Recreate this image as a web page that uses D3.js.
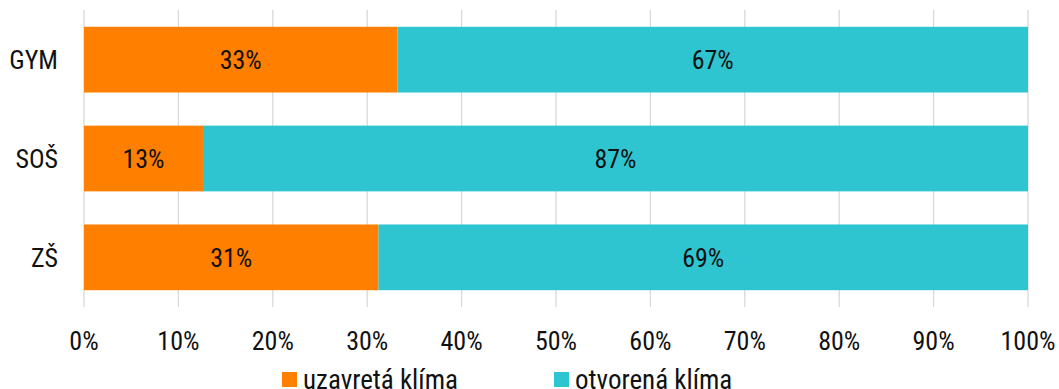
<!DOCTYPE html>
<html>
<head>
<meta charset="utf-8">
<script src="https://cdn.jsdelivr.net/npm/d3@7"></script>
<style>
  body { margin: 0; background: #fff; }
  text { font-family: "Roboto Condensed", "Liberation Sans Narrow", "Roboto", sans-serif; fill: #111; }
</style>
</head>
<body>
<script>
const categories = ["GYM", "SOŠ", "ZŠ"];
const seriesNames = ["uzavretá klíma", "otvorená klíma"];
const closedVals = [33.2, 12.6, 31.2];
const openVals = [66.8, 87.4, 68.8];
const xTicks = [0, 10, 20, 30, 40, 50, 60, 70, 80, 90, 100];
const colors = ["#ff7f00", "#2ec5d1"];

const W = 1059, H = 389;
const margin = { top: 10, right: 31, bottom: 82, left: 84 };
const w = W - margin.left - margin.right,
    h = H - margin.top - margin.bottom;

const svg = d3.select("body").append("svg")
    .attr("width", W)
    .attr("height", H);

const g = svg.append("g")
    .attr("transform", "translate(" + margin.left + "," + margin.top + ")");

const x = d3.scaleLinear().domain([0, 100]).range([0, w]);
const y = d3.scaleBand().domain(categories).range([0, h]).paddingInner(0.335).paddingOuter(0.17);

// gridlines
g.selectAll(".grid")
    .data(xTicks)
    .enter().append("line")
    .attr("x1", d => x(d)).attr("x2", d => x(d))
    .attr("y1", 0).attr("y2", h)
    .attr("stroke", "#d9d9d9")
    .attr("stroke-width", 1.3);

const rows = categories.map((c, i) => ({ cat: c, vals: [closedVals[i], openVals[i]] }));

rows.forEach(r => {
    let acc = 0;
    r.vals.forEach((v, j) => {
        g.append("rect")
            .attr("x", x(acc))
            .attr("y", y(r.cat))
            .attr("width", x(acc + v) - x(acc))
            .attr("height", y.bandwidth())
            .attr("fill", colors[j]);
        g.append("text")
            .attr("x", x(acc + v / 2))
            .attr("y", y(r.cat) + y.bandwidth() / 2)
            .attr("dy", "0.36em")
            .attr("text-anchor", "middle")
            .attr("font-size", 26)
            .text(Math.round(v) + "%");
        acc += v;
    });
});

// category labels
g.selectAll(".cat")
    .data(categories)
    .enter().append("text")
    .attr("x", -26)
    .attr("y", d => y(d) + y.bandwidth() / 2)
    .attr("dy", "0.36em")
    .attr("text-anchor", "end")
    .attr("font-size", 26)
    .text(d => d);

// x tick labels
g.selectAll(".xt")
    .data(xTicks)
    .enter().append("text")
    .attr("x", d => x(d))
    .attr("y", h + 43)
    .attr("text-anchor", "middle")
    .attr("font-size", 26)
    .text(d => d + "%");

// legend
const legX = [282, 554];
seriesNames.forEach((s, i) => {
    svg.append("rect")
        .attr("x", legX[i]).attr("y", 372)
        .attr("width", 15).attr("height", 15)
        .attr("fill", colors[i]);
    svg.append("text")
        .attr("x", legX[i] + 21)
        .attr("y", 389)
        .attr("font-size", 27)
        .text(s);
});
</script>
</body>
</html>
